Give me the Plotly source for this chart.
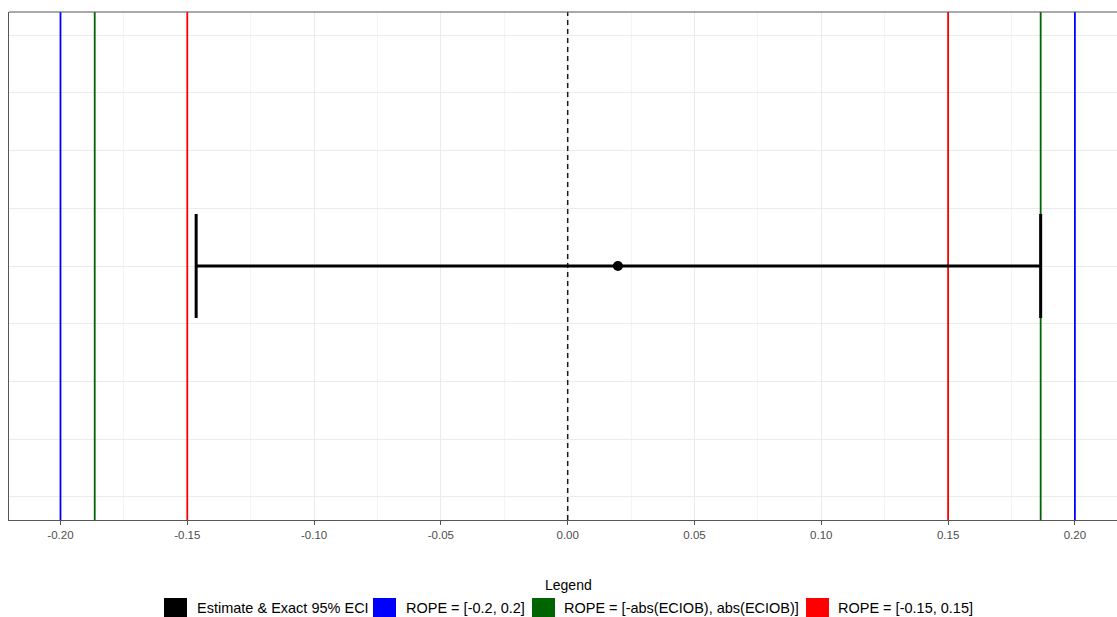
import plotly.graph_objects as go

# estimate and exact 95% ECI
estimate = [0.0198]
ci_lower = [-0.1465]
ci_upper = [0.1865]
row = [0]

# ROPE bounds
rope_fixed = [-0.2, 0.2]
rope_eciob = [-0.1865, 0.1865]
rope_narrow = [-0.15, 0.15]

tick_vals = [-0.20, -0.15, -0.10, -0.05, 0.00, 0.05, 0.10, 0.15, 0.20]
tick_text = ["-0.20", "-0.15", "-0.10", "-0.05", "0.00", "0.05", "0.10", "0.15", "0.20"]

legend_labels = ["Estimate & Exact 95% ECI", "ROPE = [-0.2, 0.2]",
                 "ROPE = [-abs(ECIOB), abs(ECIOB)]", "ROPE = [-0.15, 0.15]"]
legend_colors = ["#000000", "#0000ff", "#006400", "#ff0000"]

x_range = [-0.2203, 0.2166]
y_range = [-2.2, 2.2]

W, H = 1117, 617
ML, MR, MT, MB = 9, 0, 12, 97
PW, PH = W - ML - MR, H - MT - MB


def px_x(p):
    return (p - ML) / PW


def px_y(p):
    return (H - MB - p) / PH


fig = go.Figure()

# vertical reference lines as traces so the error bar sits on top of them
for vals, col in [(rope_fixed, "#0000ff"), (rope_eciob, "#006400"),
                  (rope_narrow, "#ff0000")]:
    for v in vals:
        fig.add_trace(go.Scatter(x=[v, v], y=y_range, mode="lines",
                                 line=dict(color=col, width=1.8),
                                 showlegend=False, hoverinfo="skip"))
fig.add_trace(go.Scatter(x=[0, 0], y=y_range, mode="lines",
                         line=dict(color="#1a1a1a", width=1.5, dash="5px,4px"),
                         showlegend=False, hoverinfo="skip"))

fig.add_trace(go.Scatter(
    x=estimate, y=row, mode="markers",
    marker=dict(color="black", size=10),
    error_x=dict(type="data", symmetric=False,
                 array=[u - e for u, e in zip(ci_upper, estimate)],
                 arrayminus=[e - l for l, e in zip(ci_lower, estimate)],
                 color="black", thickness=3, width=52),
    showlegend=False, hoverinfo="skip",
))

# top border of the panel
fig.add_shape(type="line", xref="paper", yref="paper", x0=0, x1=1, y0=1, y1=1,
              line=dict(color="#555555", width=1))

# legend drawn by hand (ggplot style keys)
fig.add_annotation(text="Legend", xref="paper", yref="paper",
                   x=px_x(568), y=px_y(585), showarrow=False,
                   xanchor="center", yanchor="middle",
                   font=dict(size=14, color="black"))
key_left = [164, 373, 532, 806]
text_left = [195, 404, 562, 836]
for lab, col, kx, tx in zip(legend_labels, legend_colors, key_left, text_left):
    fig.add_shape(type="rect", xref="paper", yref="paper",
                  x0=px_x(kx), x1=px_x(kx + 23), y0=px_y(598), y1=px_y(621),
                  fillcolor=col, line=dict(width=0))
    fig.add_annotation(text=lab, xref="paper", yref="paper",
                       x=px_x(tx), y=px_y(608), showarrow=False,
                       xanchor="left", yanchor="middle",
                       font=dict(size=14.5, color="black"))

fig.update_layout(
    width=W, height=H,
    margin=dict(l=ML, r=MR, t=MT, b=MB),
    paper_bgcolor="white", plot_bgcolor="white",
    font=dict(family="Liberation Sans, Arial, sans-serif"),
    showlegend=False,
)
fig.update_xaxes(
    range=x_range,
    tickvals=tick_vals, ticktext=tick_text,
    tickfont=dict(size=11.5, color="#4d4d4d"),
    ticks="outside", ticklen=4, tickcolor="#555555",
    showgrid=True, gridcolor="#ebebeb", gridwidth=1.2,
    minor=dict(dtick=0.025, showgrid=True, gridcolor="#f4f4f4", gridwidth=0.8),
    showline=True, linecolor="#555555", linewidth=1,
    zeroline=False,
)
fig.update_yaxes(
    range=y_range, dtick=0.5, showticklabels=False, ticks="",
    showgrid=True, gridcolor="#ebebeb", gridwidth=1.2,
    showline=True, linecolor="#555555", linewidth=1,
    zeroline=False,
)

fig.write_html("out.html", config={"displayModeBar": False},
               post_script="document.body.style.margin='0';document.body.style.overflow='hidden';")
